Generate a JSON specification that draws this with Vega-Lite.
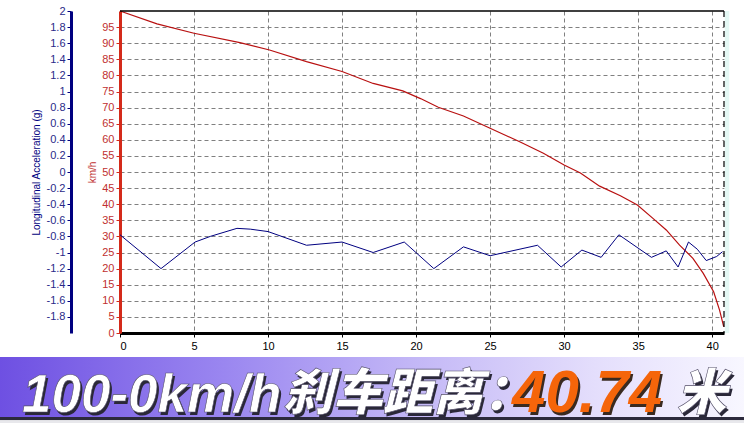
{
  "$schema": "https://vega.github.io/schema/vega-lite/v6.json",
  "width": 604,
  "height": 322,
  "autosize": {"type": "none"},
  "padding": {"left": 120, "top": 11, "right": 20, "bottom": 90},
  "background": "white",
  "config": {"view": {"stroke": null}},
  "resolve": {"scale": {"y": "independent"}},
  "layer": [
    {
      "layer": [
        {
          "data": {"values": [
            {"dist": 0, "speed": 100}, {"dist": 2.5, "speed": 96}, {"dist": 5, "speed": 93.1},
            {"dist": 8.1, "speed": 90.2}, {"dist": 10.1, "speed": 87.9}, {"dist": 12.6, "speed": 84.3},
            {"dist": 15, "speed": 81.2}, {"dist": 17.1, "speed": 77.5}, {"dist": 19.1, "speed": 75.2},
            {"dist": 20.3, "speed": 72.8}, {"dist": 21.5, "speed": 70.1}, {"dist": 23.2, "speed": 67.4},
            {"dist": 25, "speed": 63.6}, {"dist": 27, "speed": 59.4}, {"dist": 28.6, "speed": 55.8},
            {"dist": 30, "speed": 52.2}, {"dist": 31.1, "speed": 49.7}, {"dist": 32.4, "speed": 45.6},
            {"dist": 33.8, "speed": 42.6}, {"dist": 34.95, "speed": 39.75}, {"dist": 36, "speed": 35.6},
            {"dist": 36.9, "speed": 32}, {"dist": 37.8, "speed": 27.3}, {"dist": 38.7, "speed": 23.2},
            {"dist": 39.4, "speed": 18.5}, {"dist": 40.1, "speed": 12.8}, {"dist": 40.5, "speed": 7.1},
            {"dist": 40.78, "speed": 2}
          ]},
          "mark": {"type": "line", "color": "#b81010", "strokeWidth": 1.2, "clip": false},
          "encoding": {
            "x": {
              "field": "dist", "type": "quantitative",
              "scale": {"domain": [0, 40.8], "nice": false, "zero": false},
              "axis": {
                "orient": "bottom", "title": null,
                "values": [0, 5, 10, 15, 20, 25, 30, 35, 40], "tickCount": 30,
                "grid": true, "gridColor": "#808080", "gridDash": [4, 3], "gridWidth": 1,
                "domainColor": "#000000", "domainWidth": 3,
                "tickColor": "#000000", "tickSize": 4,
                "labelColor": "#000000", "labelFont": "Liberation Sans", "labelFontSize": 11,
                "labelPadding": 3
              }
            },
            "y": {
              "field": "speed", "type": "quantitative",
              "scale": {"domain": [0, 100], "nice": false, "zero": false},
              "axis": {
                "orient": "left", "offset": 0, "title": "km/h",
                "values": [0, 5, 10, 15, 20, 25, 30, 35, 40, 45, 50, 55, 60, 65, 70, 75, 80, 85, 90, 95], "tickCount": 30,
                "grid": true, "gridColor": "#808080", "gridDash": [4, 3], "gridWidth": 1,
                "domainColor": "#d42a1a", "domainWidth": 3,
                "tickColor": "#d42a1a", "tickSize": 4,
                "labelColor": "#c03030", "labelFont": "Liberation Sans", "labelFontSize": 11,
                "labelPadding": 2,
                "titleColor": "#c03030", "titleFont": "Liberation Sans", "titleFontSize": 10,
                "titleFontWeight": "normal", "titlePadding": 4
              }
            }
          }
        },
        {
          "data": {"values": [{"edge": "top"}]},
          "mark": {"type": "rule", "color": "#000000", "strokeWidth": 1.5},
          "encoding": {
            "x": {"datum": 0, "type": "quantitative"},
            "x2": {"datum": 40.8},
            "y": {"datum": 100, "type": "quantitative"}
          }
        },
        {
          "data": {"values": [{"edge": "strip"}]},
          "mark": {"type": "rect", "color": "#e4f8f4"},
          "encoding": {
            "x": {"datum": 40.85, "type": "quantitative"},
            "x2": {"datum": 41.15},
            "y": {"datum": 100, "type": "quantitative"},
            "y2": {"datum": 0}
          }
        },
        {
          "data": {"values": [{"edge": "right"}]},
          "mark": {"type": "rule", "color": "#000000", "strokeWidth": 1.2, "strokeDash": [6, 4]},
          "encoding": {
            "x": {"datum": 40.8, "type": "quantitative"},
            "y": {"datum": 100, "type": "quantitative"},
            "y2": {"datum": 0}
          }
        },
        {
          "data": {"values": [{"part": "banner"}]},
          "mark": {
            "type": "rect", "clip": false,
            "color": {
              "gradient": "linear", "x1": 0, "x2": 1, "y1": 0, "y2": 0,
              "stops": [
                {"offset": 0, "color": "#6e50e2"},
                {"offset": 0.3, "color": "#9a86f0"},
                {"offset": 0.55, "color": "#c2b6f6"},
                {"offset": 0.8, "color": "#e4defc"},
                {"offset": 1, "color": "#f8f7ff"}
              ]
            }
          },
          "encoding": {
            "x": {"datum": -8.106, "type": "quantitative"},
            "x2": {"datum": 42.15},
            "y": {"datum": -7.45, "type": "quantitative"},
            "y2": {"datum": -26.09}
          }
        },
        {
          "data": {"values": [{"part": "banner shadow"}]},
          "mark": {"type": "rect", "clip": false, "color": "#2c2a3c"},
          "encoding": {
            "x": {"datum": -8.106, "type": "quantitative"},
            "x2": {"datum": 42.15},
            "y": {"datum": -26.09, "type": "quantitative"},
            "y2": {"datum": -27.1}
          }
        },
        {
          "data": {"values": [{"part": "below banner"}]},
          "mark": {"type": "rect", "clip": false, "color": "#e8e8ec"},
          "encoding": {
            "x": {"datum": -8.106, "type": "quantitative"},
            "x2": {"datum": 42.15},
            "y": {"datum": -27.1, "type": "quantitative"},
            "y2": {"datum": -27.95}
          }
        },
        {
          "data": {"values": [{"t": "100-0km/h"}]},
          "mark": {"type": "text", "clip": false, "align": "left", "baseline": "alphabetic", "font": "Liberation Sans", "fontSize": 53, "fontWeight": "bold", "fontStyle": "italic", "color": "#2a2838", "dx": 2, "dy": 3},
          "encoding": {
            "x": {"datum": -6.62, "type": "quantitative"},
            "y": {"datum": -24.53, "type": "quantitative"},
            "text": {"field": "t"}
          }
        },
        {
          "data": {"values": [{"t": "100-0km/h"}]},
          "mark": {"type": "text", "clip": false, "align": "left", "baseline": "alphabetic", "font": "Liberation Sans", "fontSize": 53, "fontWeight": "bold", "fontStyle": "italic", "color": "#ffffff", "stroke": "#55506a", "strokeWidth": 0.6},
          "encoding": {
            "x": {"datum": -6.62, "type": "quantitative"},
            "y": {"datum": -24.53, "type": "quantitative"},
            "text": {"field": "t"}
          }
        },
        {
          "data": {"values": [{"t": "刹车距离："}]},
          "mark": {"type": "text", "clip": false, "align": "left", "baseline": "alphabetic", "font": "Noto Sans CJK SC", "fontSize": 50, "fontWeight": 900, "fontStyle": "italic", "color": "#2a2838", "dx": 2, "dy": 3},
          "encoding": {
            "x": {"datum": 11.01, "type": "quantitative"},
            "y": {"datum": -23.91, "type": "quantitative"},
            "text": {"field": "t"}
          }
        },
        {
          "data": {"values": [{"t": "刹车距离："}]},
          "mark": {"type": "text", "clip": false, "align": "left", "baseline": "alphabetic", "font": "Noto Sans CJK SC", "fontSize": 50, "fontWeight": 900, "fontStyle": "italic", "color": "#ffffff", "stroke": "#55506a", "strokeWidth": 0.6},
          "encoding": {
            "x": {"datum": 11.01, "type": "quantitative"},
            "y": {"datum": -23.91, "type": "quantitative"},
            "text": {"field": "t"}
          }
        },
        {
          "data": {"values": [{"t": "40.74"}]},
          "mark": {"type": "text", "clip": false, "align": "left", "baseline": "alphabetic", "font": "Liberation Sans", "fontSize": 60, "fontWeight": "bold", "fontStyle": "italic", "color": "#3a2a20", "dx": 2, "dy": 3},
          "encoding": {
            "x": {"datum": 26.48, "type": "quantitative"},
            "y": {"datum": -24.53, "type": "quantitative"},
            "text": {"field": "t"}
          }
        },
        {
          "data": {"values": [{"t": "40.74"}]},
          "mark": {"type": "text", "clip": false, "align": "left", "baseline": "alphabetic", "font": "Liberation Sans", "fontSize": 60, "fontWeight": "bold", "fontStyle": "italic", "color": "#f5650a"},
          "encoding": {
            "x": {"datum": 26.48, "type": "quantitative"},
            "y": {"datum": -24.53, "type": "quantitative"},
            "text": {"field": "t"}
          }
        },
        {
          "data": {"values": [{"t": "米"}]},
          "mark": {"type": "text", "clip": false, "align": "left", "baseline": "alphabetic", "font": "Noto Sans CJK SC", "fontSize": 50, "fontWeight": 900, "fontStyle": "italic", "color": "#2a2838", "dx": 2, "dy": 3},
          "encoding": {
            "x": {"datum": 37.6, "type": "quantitative"},
            "y": {"datum": -23.91, "type": "quantitative"},
            "text": {"field": "t"}
          }
        },
        {
          "data": {"values": [{"t": "米"}]},
          "mark": {"type": "text", "clip": false, "align": "left", "baseline": "alphabetic", "font": "Noto Sans CJK SC", "fontSize": 50, "fontWeight": 900, "fontStyle": "italic", "color": "#ffffff", "stroke": "#55506a", "strokeWidth": 0.6},
          "encoding": {
            "x": {"datum": 37.6, "type": "quantitative"},
            "y": {"datum": -23.91, "type": "quantitative"},
            "text": {"field": "t"}
          }
        }
      ]
    },
    {
      "data": {"values": [
        {"dist": 0, "accel": -0.78}, {"dist": 2.77, "accel": -1.2}, {"dist": 5.07, "accel": -0.87},
        {"dist": 6.1, "accel": -0.8}, {"dist": 7.9, "accel": -0.7}, {"dist": 8.8, "accel": -0.71},
        {"dist": 10.0, "accel": -0.74}, {"dist": 12.6, "accel": -0.91}, {"dist": 15.0, "accel": -0.87},
        {"dist": 17.1, "accel": -1.0}, {"dist": 19.2, "accel": -0.87}, {"dist": 21.2, "accel": -1.2},
        {"dist": 23.2, "accel": -0.93}, {"dist": 25.0, "accel": -1.04}, {"dist": 28.2, "accel": -0.91},
        {"dist": 29.8, "accel": -1.18}, {"dist": 31.2, "accel": -0.97}, {"dist": 32.5, "accel": -1.06},
        {"dist": 33.7, "accel": -0.78}, {"dist": 35.9, "accel": -1.06}, {"dist": 36.9, "accel": -0.98},
        {"dist": 37.7, "accel": -1.18}, {"dist": 38.4, "accel": -0.87}, {"dist": 39.0, "accel": -0.96},
        {"dist": 39.6, "accel": -1.1}, {"dist": 40.3, "accel": -1.05}, {"dist": 40.7, "accel": -0.99}
      ]},
      "mark": {"type": "line", "color": "#000080", "strokeWidth": 1},
      "encoding": {
        "x": {"field": "dist", "type": "quantitative"},
        "y": {
          "field": "accel", "type": "quantitative",
          "scale": {"domain": [-2, 2], "nice": false, "zero": false},
          "axis": {
            "orient": "left", "offset": 49, "title": "Longitudinal Acceleration (g)",
            "values": [-1.8, -1.6, -1.4, -1.2, -1, -0.8, -0.6, -0.4, -0.2, 0, 0.2, 0.4, 0.6, 0.8, 1, 1.2, 1.4, 1.6, 1.8, 2], "tickCount": 30,
            "labelExpr": "'' + datum.value",
            "grid": false,
            "domainColor": "#000080", "domainWidth": 3,
            "tickColor": "#000080", "tickSize": 4,
            "labelColor": "#2a2a88", "labelFont": "Liberation Sans", "labelFontSize": 11,
            "labelPadding": 2,
            "titleColor": "#000080", "titleFont": "Liberation Sans", "titleFontSize": 10,
            "titleFontWeight": "normal", "titlePadding": 5
          }
        }
      }
    }
  ]
}
